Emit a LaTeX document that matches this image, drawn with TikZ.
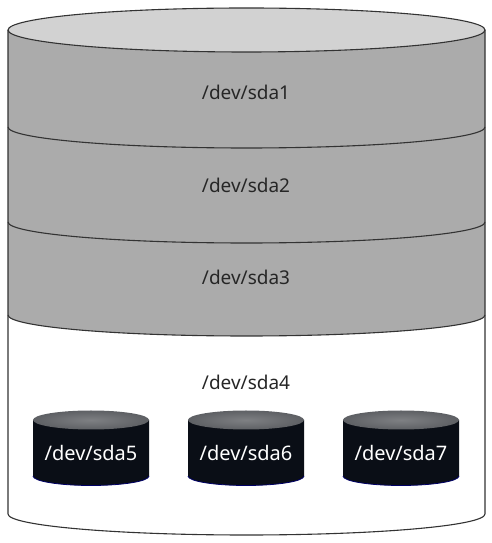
\documentclass[tikz,border=0pt]{standalone}
\usepackage{fontspec}
\setmainfont{Noto Sans}
\definecolor{topgray}{HTML}{D2D2D2}
\definecolor{bodygray}{HTML}{ABABAB}
\definecolor{edgecol}{HTML}{333333}
\definecolor{diskbody}{HTML}{0A0E16}
\definecolor{disktop}{HTML}{5E6064}
\begin{document}
\begin{tikzpicture}[x=1pt,y=1pt,
  edge/.style={draw=edgecol,line width=1.1pt},
  lbl/.style={font=\fontsize{19}{22}\selectfont,text=black!85},
  disklbl/.style={font=\fontsize{20}{22}\selectfont,text=white}]
\useasboundingbox (0,0) rectangle (491,543);
\def\L{8}\def\R{485}\def\rx{238.5}\def\ry{21}
% white lower band
\fill[white] (\L,228) -- (\L,29) arc[start angle=180,end angle=360,x radius=\rx,y radius=\ry] -- (\R,228) -- cycle;
% gray body
\fill[bodygray] (\L,513) -- (\L,228) arc[start angle=180,end angle=360,x radius=\rx,y radius=\ry] -- (\R,513) -- cycle;
% top ellipse
\filldraw[fill=topgray,edge] (246.5,513) ellipse[x radius=\rx,y radius=22];
% separators
\foreach \yy in {416,321,228}
  \draw[edge] (\L,\yy) arc[start angle=180,end angle=360,x radius=\rx,y radius=\ry];
% bottom and sides
\draw[edge] (\L,513) -- (\L,29) arc[start angle=180,end angle=360,x radius=\rx,y radius=\ry] -- (\R,513);
% labels
\node[lbl] (sda1) at (246,451) {/dev/sda1};
\node[lbl] (sda2) at (246,358) {/dev/sda2};
\node[lbl] (sda3) at (246,266) {/dev/sda3};
\node[lbl] (sda4) at (246,161) {/dev/sda4};
% small disks
\foreach \cx/\nm in {91/sda5,246/sda6,401/sda7}{
  \fill[diskbody] (\cx-58,123) -- (\cx-58,67) arc[start angle=180,end angle=360,x radius=58,y radius=9.5] -- (\cx+58,123) -- cycle;
  \draw[blue!40!black,line width=0.8pt] (\cx-58,67) arc[start angle=180,end angle=360,x radius=58,y radius=9.5];
  \shade[inner color=disktop!80!white,outer color=disktop] (\cx,123) ellipse[x radius=58,y radius=9.5];
  \node[disklbl] (\nm) at (\cx,90) {/dev/\nm};
}
\end{tikzpicture}
\end{document}
